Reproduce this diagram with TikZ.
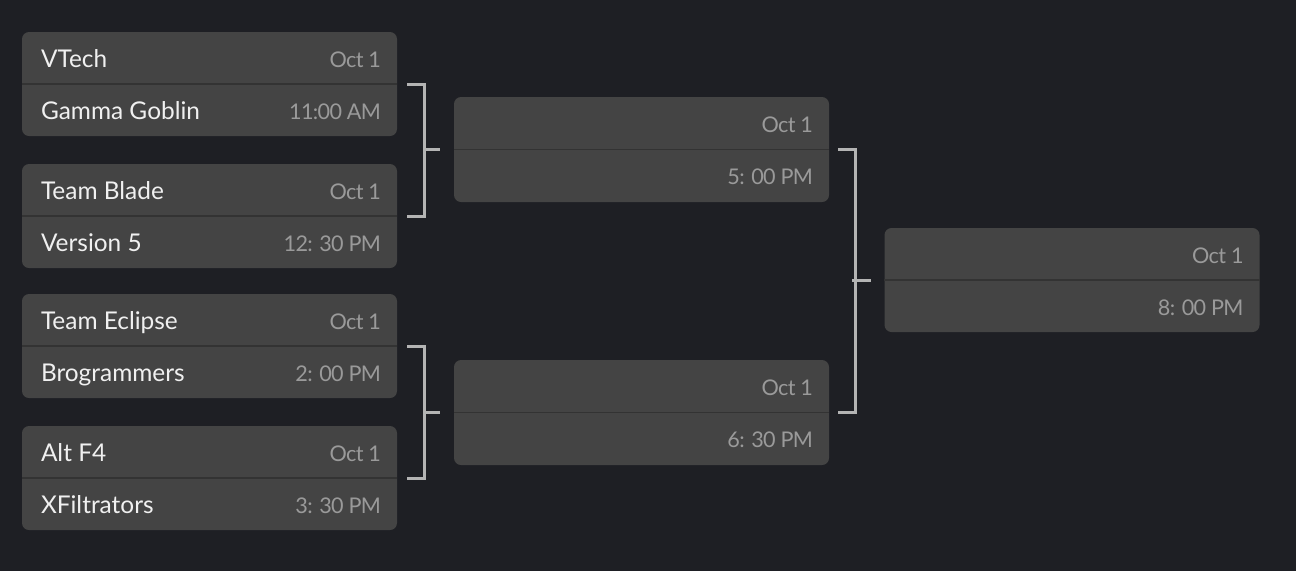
\documentclass[tikz,border=0pt]{standalone}
\usepackage{fontspec}
\setmainfont{Lato}
\newfontfamily\timefont[LetterSpace=-3]{Lato}
\usepackage{tikz}

\definecolor{pagebg}{HTML}{1E1F24}
\definecolor{boxfill}{HTML}{444444}
\definecolor{boxline}{HTML}{333333}
\definecolor{timegray}{HTML}{9A9A9A}
\definecolor{bracketgray}{HTML}{B4B4B4}

\begin{document}
\begin{tikzpicture}[
matchbox/.style={rectangle, rounded corners=4pt, fill=boxfill, minimum width=7.5cm, minimum height=2.08cm, inner sep=0pt},
teamname/.style={anchor=base west, inner sep=0pt, text=white!94!black, font=\fontsize{13.9}{16}\selectfont},
matchtime/.style={anchor=base east, inner sep=0pt, text=timegray, font=\timefont\fontsize{12.3}{15}\selectfont},
divider/.style={draw=boxline, line width=0.9pt},
bracketline/.style={draw=bracketgray, line width=1.7pt},
]

% Dark page background
\fill[pagebg] (0,0) rectangle (25.92,-11.42);
\useasboundingbox (0,0) rectangle (25.92,-11.42);

% Quarter-final nodes
\node[matchbox]     (quarter1)      at (4.19,-1.68)     {};
\node[matchbox]     (quarter2)      at (4.19,-4.32)     {};
\node[matchbox]     (quarter3)      at (4.19,-6.92)     {};
\node[matchbox]     (quarter4)      at (4.19,-9.56)     {};

% Semi-final nodes
\node[matchbox, minimum height=2.1cm]   (semi1)     at (12.83,-2.99)    {};
\node[matchbox, minimum height=2.1cm]   (semi2)     at (12.83,-8.25)    {};

% Final node
\node[matchbox]     (final)         at (21.44,-5.6)     {};

% Row dividers
\draw[divider] (quarter1.west) -- (quarter1.east);
\draw[divider] (quarter2.west) -- (quarter2.east);
\draw[divider] (quarter3.west) -- (quarter3.east);
\draw[divider] (quarter4.west) -- (quarter4.east);
\draw[divider] (semi1.west) -- (semi1.east);
\draw[divider] (semi2.west) -- (semi2.east);
\draw[divider] (final.west) -- (final.east);

% Team names
\node[teamname]     (vtech)         at ([shift={(0.38,0.34)}]quarter1.west)     {VTech};
\node[teamname]     (gammagoblin)   at ([shift={(0.38,-0.70)}]quarter1.west)    {Gamma Goblin};
\node[teamname]     (teamblade)     at ([shift={(0.38,0.34)}]quarter2.west)     {Team Blade};
\node[teamname]     (version5)      at ([shift={(0.38,-0.70)}]quarter2.west)    {Version 5};
\node[teamname]     (teameclipse)   at ([shift={(0.38,0.34)}]quarter3.west)     {Team Eclipse};
\node[teamname]     (brogrammers)   at ([shift={(0.38,-0.70)}]quarter3.west)    {Brogrammers};
\node[teamname]     (altf4)         at ([shift={(0.38,0.34)}]quarter4.west)     {Alt F4};
\node[teamname]     (xfiltrators)   at ([shift={(0.38,-0.70)}]quarter4.west)    {XFiltrators};

% Dates and times
\node[matchtime]    (date1)     at ([shift={(-0.32,0.34)}]quarter1.east)    {Oct 1};
\node[matchtime]    (time1)     at ([shift={(-0.32,-0.70)}]quarter1.east)   {11:00 AM};
\node[matchtime]    (date2)     at ([shift={(-0.32,0.34)}]quarter2.east)    {Oct 1};
\node[matchtime]    (time2)     at ([shift={(-0.32,-0.70)}]quarter2.east)   {12: 30 PM};
\node[matchtime]    (date3)     at ([shift={(-0.32,0.34)}]quarter3.east)    {Oct 1};
\node[matchtime]    (time3)     at ([shift={(-0.32,-0.70)}]quarter3.east)   {2: 00 PM};
\node[matchtime]    (date4)     at ([shift={(-0.32,0.34)}]quarter4.east)    {Oct 1};
\node[matchtime]    (time4)     at ([shift={(-0.32,-0.70)}]quarter4.east)   {3: 30 PM};
\node[matchtime]    (date5)     at ([shift={(-0.32,0.34)}]semi1.east)       {Oct 1};
\node[matchtime]    (time5)     at ([shift={(-0.32,-0.70)}]semi1.east)      {5: 00 PM};
\node[matchtime]    (date6)     at ([shift={(-0.32,0.34)}]semi2.east)       {Oct 1};
\node[matchtime]    (time6)     at ([shift={(-0.32,-0.70)}]semi2.east)      {6: 30 PM};
\node[matchtime]    (date7)     at ([shift={(-0.32,0.34)}]final.east)       {Oct 1};
\node[matchtime]    (time7)     at ([shift={(-0.32,-0.70)}]final.east)      {8: 00 PM};

% Brackets between rounds
\draw[bracketline] ([xshift=2mm]quarter1.east) -| ([xshift=5.4mm]quarter2.east) -- ([xshift=2mm]quarter2.east);
\draw[bracketline] ([xshift=-6mm]semi1.west) -- ([xshift=-2.8mm]semi1.west);
\draw[bracketline] ([xshift=2mm]quarter3.east) -| ([xshift=5.4mm]quarter4.east) -- ([xshift=2mm]quarter4.east);
\draw[bracketline] ([xshift=-6mm]semi2.west) -- ([xshift=-2.8mm]semi2.west);
\draw[bracketline] ([xshift=1.8mm]semi1.east) -| ([xshift=5.2mm]semi2.east) -- ([xshift=1.8mm]semi2.east);
\draw[bracketline] ([xshift=-6.4mm]final.west) -- ([xshift=-2.6mm]final.west);
\end{tikzpicture}
\end{document}
